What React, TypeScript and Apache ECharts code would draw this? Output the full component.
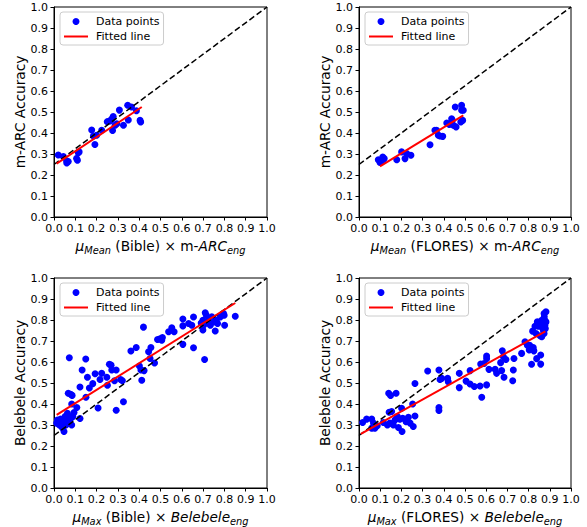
import React, { useEffect, useRef } from "react";
import * as echarts from "echarts";

// ---- Panel 1: mu_Mean (Bible) x m-ARC_eng vs m-ARC accuracy
const bibleArcX = [0.02, 0.044, 0.059, 0.067, 0.06, 0.106, 0.11, 0.114, 0.118, 0.177, 0.185, 0.192, 0.2, 0.224, 0.25, 0.263, 0.27, 0.278, 0.275, 0.287, 0.295, 0.307, 0.326, 0.346, 0.349, 0.364, 0.387, 0.404, 0.407];
const bibleArcY = [0.295, 0.288, 0.268, 0.264, 0.257, 0.279, 0.27, 0.306, 0.31, 0.414, 0.386, 0.345, 0.389, 0.413, 0.454, 0.457, 0.465, 0.478, 0.412, 0.437, 0.444, 0.509, 0.437, 0.532, 0.462, 0.524, 0.506, 0.46, 0.452];
const bibleArcFitX = [0.0125, 0.412];
const bibleArcFitY = [0.254, 0.524];

// ---- Panel 2: mu_Mean (FLORES) x m-ARC_eng vs m-ARC accuracy
const floresArcX = [0.091, 0.107, 0.112, 0.119, 0.099, 0.178, 0.201, 0.217, 0.225, 0.245, 0.335, 0.358, 0.366, 0.374, 0.382, 0.395, 0.414, 0.426, 0.437, 0.445, 0.458, 0.454, 0.484, 0.484, 0.492, 0.489, 0.48, 0.44];
const floresArcY = [0.273, 0.265, 0.286, 0.278, 0.26, 0.273, 0.31, 0.278, 0.302, 0.294, 0.344, 0.413, 0.413, 0.389, 0.386, 0.384, 0.448, 0.441, 0.468, 0.437, 0.429, 0.524, 0.532, 0.508, 0.508, 0.46, 0.452, 0.46];
const floresArcFitX = [0.099, 0.492];
const floresArcFitY = [0.241, 0.484];

// ---- Panel 3: mu_Max (Bible) x Belebele_eng vs Belebele accuracy
const bibleBeleX = [0.0125, 0.016, 0.025, 0.031, 0.036, 0.041, 0.044, 0.047, 0.052, 0.056, 0.06, 0.063, 0.067, 0.072, 0.075, 0.083, 0.088, 0.094, 0.083, 0.067, 0.078, 0.085, 0.072, 0.107, 0.122, 0.122, 0.132, 0.149, 0.15, 0.157, 0.166, 0.182, 0.193, 0.207, 0.216, 0.224, 0.248, 0.251, 0.26, 0.268, 0.271, 0.284, 0.292, 0.292, 0.313, 0.321, 0.326, 0.361, 0.386, 0.401, 0.408, 0.412, 0.42, 0.423, 0.444, 0.451, 0.455, 0.472, 0.486, 0.498, 0.506, 0.509, 0.538, 0.553, 0.564, 0.605, 0.605, 0.605, 0.632, 0.647, 0.655, 0.655, 0.691, 0.699, 0.702, 0.707, 0.71, 0.715, 0.718, 0.726, 0.734, 0.741, 0.749, 0.757, 0.762, 0.768, 0.781, 0.796, 0.801, 0.799, 0.851, 0.699];
const bibleBeleY = [0.309, 0.324, 0.3, 0.328, 0.293, 0.285, 0.312, 0.269, 0.34, 0.3, 0.324, 0.356, 0.34, 0.309, 0.324, 0.3, 0.34, 0.359, 0.4, 0.451, 0.446, 0.441, 0.62, 0.383, 0.331, 0.481, 0.562, 0.614, 0.432, 0.527, 0.476, 0.497, 0.544, 0.381, 0.517, 0.546, 0.527, 0.489, 0.589, 0.585, 0.562, 0.511, 0.562, 0.37, 0.517, 0.511, 0.411, 0.652, 0.669, 0.581, 0.562, 0.513, 0.766, 0.559, 0.649, 0.617, 0.669, 0.595, 0.707, 0.71, 0.704, 0.717, 0.744, 0.763, 0.744, 0.805, 0.772, 0.684, 0.783, 0.775, 0.814, 0.668, 0.786, 0.799, 0.775, 0.612, 0.834, 0.823, 0.786, 0.799, 0.775, 0.815, 0.791, 0.748, 0.799, 0.783, 0.815, 0.831, 0.775, 0.823, 0.818, 0.752];
const bibleBeleFitX = [0.0125, 0.851];
const bibleBeleFitY = [0.348, 0.881];

// ---- Panel 4: mu_Max (FLORES) x Belebele_eng vs Belebele accuracy
const floresBeleX = [0.017, 0.036, 0.06, 0.068, 0.075, 0.06, 0.086, 0.115, 0.134, 0.14, 0.149, 0.142, 0.154, 0.146, 0.162, 0.175, 0.17, 0.181, 0.186, 0.193, 0.201, 0.203, 0.206, 0.222, 0.233, 0.241, 0.253, 0.256, 0.264, 0.264, 0.324, 0.377, 0.377, 0.377, 0.382, 0.39, 0.418, 0.421, 0.473, 0.473, 0.505, 0.524, 0.524, 0.544, 0.571, 0.574, 0.579, 0.59, 0.602, 0.602, 0.602, 0.613, 0.642, 0.649, 0.668, 0.676, 0.673, 0.681, 0.684, 0.693, 0.725, 0.728, 0.731, 0.767, 0.783, 0.794, 0.803, 0.805, 0.814, 0.819, 0.822, 0.825, 0.83, 0.835, 0.838, 0.841, 0.846, 0.854, 0.857, 0.857, 0.857, 0.862, 0.866, 0.869, 0.873, 0.874, 0.876, 0.877, 0.879, 0.882, 0.882, 0.873, 0.862];
const floresBeleY = [0.312, 0.328, 0.328, 0.309, 0.285, 0.285, 0.296, 0.312, 0.3, 0.451, 0.441, 0.361, 0.364, 0.309, 0.3, 0.451, 0.324, 0.34, 0.288, 0.328, 0.38, 0.269, 0.332, 0.316, 0.337, 0.309, 0.4, 0.293, 0.343, 0.498, 0.557, 0.562, 0.383, 0.369, 0.517, 0.522, 0.522, 0.506, 0.546, 0.478, 0.509, 0.559, 0.495, 0.483, 0.486, 0.59, 0.432, 0.593, 0.628, 0.616, 0.491, 0.565, 0.565, 0.546, 0.597, 0.653, 0.559, 0.625, 0.527, 0.612, 0.511, 0.562, 0.617, 0.641, 0.696, 0.68, 0.657, 0.68, 0.589, 0.747, 0.669, 0.653, 0.77, 0.736, 0.616, 0.791, 0.77, 0.725, 0.633, 0.59, 0.77, 0.72, 0.783, 0.752, 0.831, 0.815, 0.799, 0.775, 0.759, 0.839, 0.791, 0.736, 0.799];
const floresBeleFitX = [0.009, 0.879];
const floresBeleFitY = [0.258, 0.746];

// ---- chance diagonal (dashed reference)
const chanceX = [0, 1];
const chanceY = [0.25, 1];

// ---- axes
const axisMin = 0;
const axisMax = 1;
const axisStep = 0.1;

const yTitles = ["m-ARC Accuracy", "m-ARC Accuracy", "Belebele Accuracy", "Belebele Accuracy"];
const xTitleSub = ["Mean", "Mean", "Max", "Max"];
const xTitleSource = ["Bible", "FLORES", "Bible", "FLORES"];
const xTitleTask = [["m-", "ARC"], ["m-", "ARC"], ["", "Belebele"], ["", "Belebele"]];

const FONT = "DejaVu Sans";
const TITLE_SIZE = 13.7;

const zip = (xs: number[], ys: number[]) => xs.map((x, i) => [x, ys[i]]);

const panels = [
  { x: bibleArcX, y: bibleArcY, fx: bibleArcFitX, fy: bibleArcFitY },
  { x: floresArcX, y: floresArcY, fx: floresArcFitX, fy: floresArcFitY },
  { x: bibleBeleX, y: bibleBeleY, fx: bibleBeleFitX, fy: bibleBeleFitY },
  { x: floresBeleX, y: floresBeleY, fx: floresBeleFitX, fy: floresBeleFitY },
];

const gridBoxes = [
  { left: 54, top: 7, width: 213, height: 210 },
  { left: 359, top: 7, width: 212, height: 210 },
  { left: 54, top: 278, width: 213, height: 210 },
  { left: 359, top: 278, width: 212, height: 210 },
];

export default function App() {
  const ref = useRef<HTMLDivElement>(null);
  useEffect(() => {
    if (!ref.current) return;
    const chart = echarts.init(ref.current, undefined, { renderer: "svg" });

    const rich = {
      mu: { fontSize: TITLE_SIZE, fontStyle: "italic", fontFamily: FONT, color: "#000", lineHeight: 18 },
      sub: { fontSize: 9.8, fontStyle: "italic", fontFamily: FONT, color: "#000", lineHeight: 10, verticalAlign: "bottom" },
      n: { fontSize: TITLE_SIZE, fontFamily: FONT, color: "#000", lineHeight: 18 },
      it: { fontSize: TITLE_SIZE, fontStyle: "italic", fontFamily: FONT, color: "#000", lineHeight: 18 },
    };

    const grid = gridBoxes.map((g) => ({
      ...g,
      show: true,
      borderColor: "#000",
      borderWidth: 1,
      backgroundColor: "transparent",
      containLabel: false,
    }));

    const axisCommon = {
      type: "value",
      min: axisMin,
      max: axisMax,
      interval: axisStep,
      splitLine: { show: false },
      axisLine: { show: true, onZero: false, lineStyle: { color: "#000", width: 1 } },
      axisTick: { show: true, inside: false, length: 3.5, lineStyle: { color: "#000", width: 1 } },
    };

    const tickLabel = {
      formatter: (v: number) => v.toFixed(1),
      fontSize: 11,
      fontFamily: FONT,
      color: "#000",
      margin: 6,
    };

    const xAxis = panels.map((_, i) => ({
      ...axisCommon,
      gridIndex: i,
      axisLabel: tickLabel,
      name: `{mu|μ}{sub|${xTitleSub[i]}}{n| (${xTitleSource[i]}) × ${xTitleTask[i][0]}}{it|${xTitleTask[i][1]}}{sub|eng}`,
      nameLocation: "middle",
      nameGap: 20,
      nameTextStyle: { fontSize: TITLE_SIZE, fontFamily: FONT, color: "#000", rich },
    }));

    const yAxis = panels.map((_, i) => ({
      ...axisCommon,
      gridIndex: i,
      axisLabel: tickLabel,
      name: yTitles[i],
      nameLocation: "middle",
      nameGap: 27,
      nameTextStyle: { fontSize: TITLE_SIZE, fontFamily: FONT, color: "#000" },
    }));

    const series: any[] = [];
    panels.forEach((p, i) => {
      series.push({
        type: "scatter",
        name: "Data points",
        xAxisIndex: i,
        yAxisIndex: i,
        data: zip(p.x, p.y),
        symbol: "circle",
        symbolSize: 7,
        itemStyle: { color: "#0000ff", opacity: 1 },
        z: 2,
      });
      series.push({
        type: "line",
        name: "chance",
        xAxisIndex: i,
        yAxisIndex: i,
        data: zip(chanceX, chanceY),
        symbol: "none",
        lineStyle: { color: "#000", width: 1.5, type: [6, 3] },
        z: 3,
        silent: true,
      });
      series.push({
        type: "line",
        name: "Fitted line",
        xAxisIndex: i,
        yAxisIndex: i,
        data: zip(p.fx, p.fy),
        symbol: "none",
        itemStyle: { color: "#ff0000" },
        lineStyle: { color: "#ff0000", width: 2 },
        z: 4,
      });
    });

    const legend = gridBoxes.map((g) => ({
      left: g.left + 6,
      top: g.top + 5,
      orient: "vertical",
      itemWidth: 24,
      itemHeight: 7,
      itemGap: 4,
      padding: [4, 4, 3, 4],
      backgroundColor: "rgba(255,255,255,0.8)",
      borderColor: "#cccccc",
      borderWidth: 1,
      borderRadius: 3,
      selectedMode: false,
      textStyle: { fontSize: 11, fontFamily: FONT, color: "#000", padding: [0, 0, 0, 3] },
      data: [
        { name: "Data points", icon: "circle", itemStyle: { color: "#0000ff" } },
        { name: "Fitted line", icon: "path://M0,0 L24,0 L24,2 L0,2 Z", itemStyle: { color: "#ff0000" } },
      ],
    }));

    chart.setOption({
      animation: false,
      backgroundColor: "#fff",
      grid,
      xAxis,
      yAxis,
      legend,
      series,
    });
    return () => chart.dispose();
  }, []);
  return (
    <div
      ref={ref}
      style={{ position: "absolute", left: 0, top: 0, width: 587, height: 527 }}
    />
  );
}
